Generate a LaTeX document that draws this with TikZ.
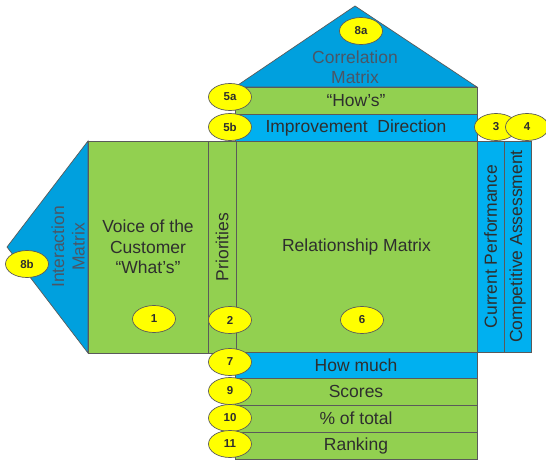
\documentclass[tikz,border=0pt]{standalone}
\usepackage{fontspec}
\setmainfont{Liberation Sans}
\usetikzlibrary{shapes.geometric}
\definecolor{qgreen}{HTML}{92D050} \definecolor{qcyan}{HTML}{00B0F0} \definecolor{roofblue}{HTML}{00A0DE}
\definecolor{qyellow}{HTML}{FFFF00} \definecolor{edgegray}{HTML}{5A5A5A} \definecolor{inkgray}{HTML}{2E2E2E}
\definecolor{roofink}{HTML}{4A5666}
\begin{document}
\begin{tikzpicture}[x=1pt,y=-1pt,line width=.7pt,
  part/.style={draw=edgegray,inner sep=0pt,text=inkgray,align=center,font=\fontsize{17.5}{20.5}\selectfont},
  badge/.style={ellipse,draw=edgegray,fill=qyellow,minimum width=43pt,minimum height=27pt,inner sep=0pt,text=inkgray,font=\fontsize{11.5}{12}\selectfont\bfseries}]
\useasboundingbox (0,0) rectangle (546,460);
% roof and side wing
\coordinate (roofL) at (235,87); \coordinate (roofT) at (355,6); \coordinate (roofR) at (477,87);
\draw[draw=edgegray,fill=roofblue] (roofL)--(roofT)--(roofR)--cycle;
\node[part,draw=none,text=roofink] (corr) at (355,67) {Correlation\\Matrix};
\coordinate (wingT) at (88,141); \coordinate (wingP) at (7,247); \coordinate (wingB) at (88,353);
\draw[draw=edgegray,fill=roofblue] (wingT)--(wingP)--(wingB)--cycle;
\node[part,draw=none,text=roofink,rotate=90] (inter) at (68,247) {Interaction\\Matrix};
% upper bars
\node[part,fill=qgreen,minimum width=242pt,minimum height=27pt] (hows) at (356,100.5) {``How's''};
\node[part,fill=qcyan,minimum width=242pt,minimum height=27pt] (impr) at (356,127.5) {Improvement\ \ Direction};
% body
\node[part,fill=qgreen,minimum width=120pt,minimum height=212pt] (voice) at (148,247) {Voice of the\\Customer\\``What's''};
\node[part,fill=qgreen,rotate=90,minimum width=212pt,minimum height=28pt] (prio) at (222,247) {Priorities};
\node[part,fill=qgreen,minimum width=241pt,minimum height=212pt] (rel) at (356.5,247) {Relationship Matrix};
\node[part,fill=qcyan,rotate=90,minimum width=211pt,minimum height=27pt] (curr) at (490.5,246.5) {Current Performance};
\node[part,fill=qcyan,rotate=90,minimum width=211pt,minimum height=27pt] (comp) at (517.5,246.5) {Competitive Assessment};
% lower bars
\node[part,fill=qcyan,minimum width=242pt,minimum height=26pt] (much) at (356,365) {How much};
\node[part,fill=qgreen,minimum width=242pt,minimum height=27pt] (scores) at (356,391.5) {Scores};
\node[part,fill=qgreen,minimum width=242pt,minimum height=27pt] (pct) at (356,418.5) {\% of total};
\node[part,fill=qgreen,minimum width=242pt,minimum height=27pt] (rank) at (356,445.5) {Ranking};
% numbered badges
\node[badge] (b8a) at (361,31) {8a}; \node[badge] (b5a) at (230,97) {5a}; \node[badge] (b5b) at (230,127) {5b};
\node[badge] (b3) at (496,127) {3}; \node[badge] (b4) at (527,127) {4}; \node[badge] (b8b) at (27,264) {8b};
\node[badge] (b1) at (154,319) {1}; \node[badge] (b2) at (230,320) {2}; \node[badge] (b6) at (362,320) {6};
\node[badge] (b7) at (230,362) {7}; \node[badge] (b9) at (230,391) {9}; \node[badge] (b10) at (230,418) {10};
\node[badge] (b11) at (230,444) {11};
\end{tikzpicture}
\end{document}
